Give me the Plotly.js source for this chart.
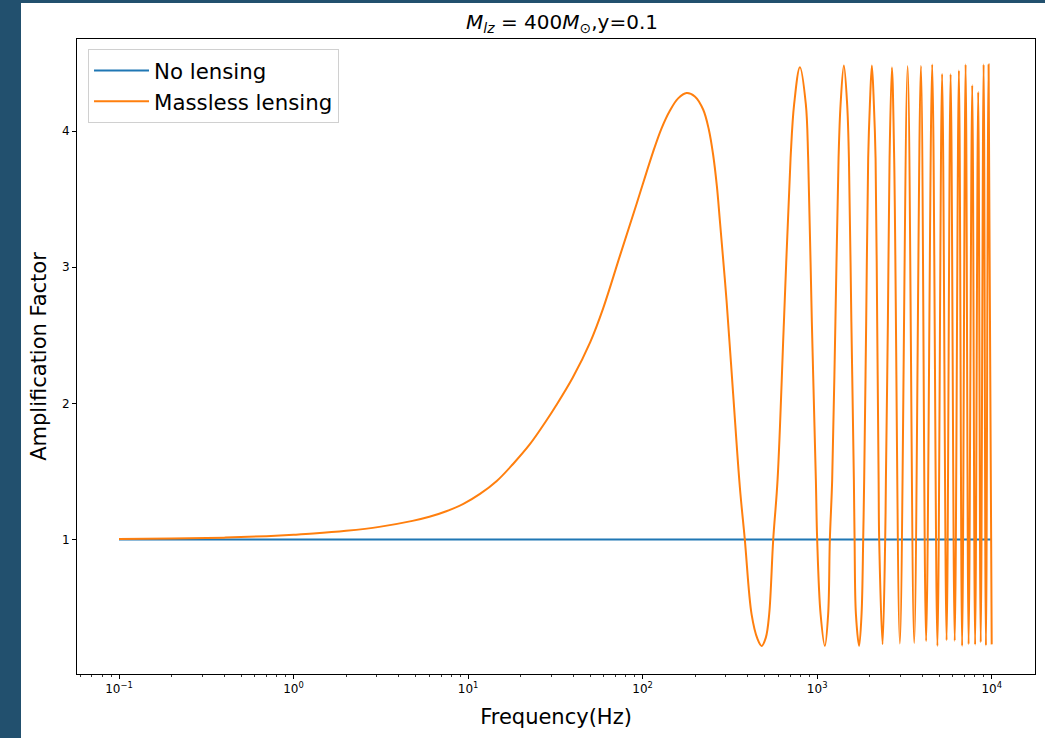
<!DOCTYPE html>
<html>
<head>
<meta charset="utf-8">
<script src="https://cdn.plot.ly/plotly-3.0.1.min.js"></script>
<style>
  html, body { margin: 0; padding: 0; background: #22506e; width: 1045px; height: 738px; overflow: hidden; }
  #chart { position: absolute; left: 21px; top: 3px; width: 1024px; height: 735px; background: #ffffff; }
</style>
</head>
<body>
<div id="chart"></div>
<script>
// ---- data ----
const noLensFreq = [0.1, 10000];
const noLensAmp = [1, 1];

const masslessFreq = [
  0.1, 0.2, 0.4, 0.7, 1.0, 1.3, 2.0, 3.1, 4.8, 6.0, 7.5, 9.4, 11.7, 14.6, 18.1, 22.6, 28.1, 31.6,
  39.8, 50.1, 59.4, 74.0, 92.3, 114.8, 128.2, 143.2, 159.7, 178.6, 199.1, 222.2, 239.6, 253.5, 266.2, 276.9,
  302.6, 330.1, 360.6,
  385, 421, 455, 480, 508, 531, 560, 593,
  645, 704, 738, 796, 861, 888, 932, 983, 1000, 1046, 1107, 1156, 1182, 1219,
  1272, 1326, 1362, 1422, 1485, 1520, 1570, 1623, 1638, 1667, 1739, 1796, 1835, 1859,
  1909, 1960, 2005, 2058, 2113, 2161, 2207, 2249, 2266, 2370, 2453, 2476,
  2542, 2599, 2680, 2762, 2978,
  3298, 3596, 3929, 4209, 4560, 4885, 5197, 5513, 5814, 6138, 6486, 6767,
  7087, 7373, 7732, 8033, 8367, 8650, 8986, 9265, 9598, 10000
];
const masslessAmp = [
  1.004, 1.007, 1.014, 1.025, 1.035, 1.044, 1.064, 1.093, 1.137, 1.167, 1.208, 1.262, 1.335, 1.430, 1.555, 1.700, 1.874, 1.975,
  2.190, 2.45, 2.698, 3.081, 3.464, 3.847, 4.018, 4.149, 4.240, 4.279, 4.254, 4.158, 4.010, 3.826, 3.597, 3.345,
  2.754, 2.068, 1.384,
  1.0, 0.45, 0.27, 0.219, 0.28, 0.453, 1.0, 1.438,
  2.6, 3.8, 4.197, 4.469, 4.197, 3.8, 2.6, 1.438, 1.0, 0.453, 0.219, 0.453, 1.0, 1.438,
  2.6, 3.8, 4.197, 4.481, 4.197, 3.8, 2.6, 1.438, 1.0, 0.453, 0.219, 0.453, 1.0, 1.438,
  2.6, 3.8, 4.197, 4.481, 4.197, 3.8, 2.6, 1.438, 1.0, 0.231, 1.0, 1.438,
  2.6, 3.8, 4.466, 3.8, 0.237,
  4.476, 0.241, 4.478, 0.254, 4.489, 0.219, 4.419, 0.261, 4.417, 0.256, 4.444, 0.219,
  4.489, 0.231, 4.336, 0.228, 4.286, 0.246, 4.489, 0.222, 4.489, 0.23
];

const xTickVals = [0.1, 1, 10, 100, 1000, 10000];
const xTickText = ['10<sup>\u22121</sup>', '10<sup>0</sup>', '10<sup>1</sup>', '10<sup>2</sup>', '10<sup>3</sup>', '10<sup>4</sup>'];
const yTickVals = [1, 2, 3, 4];
const yTickText = ['1', '2', '3', '4'];

const seriesNames = ['No lensing', 'Massless lensing'];
const titleText = '<i>M<sub>lz</sub></i> = 400<i>M</i><sub>\u2299</sub>,y=0.1';
const xTitle = 'Frequency(Hz)';
const yTitle = 'Amplification Factor';

// minor log ticks (2..9 per decade)
const minorTicks = [];
for (let e = -2; e <= 4; e++) {
  for (let d = 2; d <= 9; d++) {
    const v = d * Math.pow(10, e);
    if (v > 0.057 && v < 17700) minorTicks.push(v);
  }
}

const font = 'DejaVu Sans, Liberation Sans, sans-serif';

const traces = [
  {
    x: noLensFreq, y: noLensAmp, type: 'scatter', mode: 'lines', name: seriesNames[0],
    legendgroup: 'g0',
    line: { color: '#1f77b4', width: 2 }
  },
  {
    x: masslessFreq, y: masslessAmp, type: 'scatter', mode: 'lines', name: seriesNames[1],
    legendgroup: 'g1',
    line: { color: '#ff7f0e', width: 2, shape: 'spline', smoothing: 1 }
  }
];

const layout = {
  width: 1024, height: 735,
  margin: { l: 56, r: 10, t: 36, b: 64 },
  paper_bgcolor: '#ffffff', plot_bgcolor: '#ffffff',
  font: { family: font, color: '#000000' },
  title: {
    text: titleText, font: { family: font, size: 20, color: '#000000' },
    x: 0.5063, xref: 'paper', y: 1 - 19 / 735, yref: 'container', yanchor: 'middle'
  },
  showlegend: true,
  legend: {
    x: 0.0115, y: 0.984, xanchor: 'left', yanchor: 'top',
    bgcolor: 'rgba(255,255,255,0.8)', bordercolor: '#d0d0d0', borderwidth: 1,
    font: { family: font, size: 21.3, color: '#000000' },
    itemwidth: 55,
    tracegroupgap: 0
  },
  xaxis: {
    type: 'log', range: [-1.2407, 4.248], autorange: false,
    tickmode: 'array', tickvals: xTickVals, ticktext: xTickText,
    ticks: 'outside', ticklen: 4, tickwidth: 1, tickcolor: '#000000',
    minor: { tickmode: 'array', tickvals: minorTicks, ticks: 'outside', ticklen: 2, tickwidth: 0.8, tickcolor: '#000000', showgrid: false },
    showline: true, linecolor: '#000000', linewidth: 1, mirror: true,
    showgrid: false, zeroline: false,
    tickfont: { family: font, size: 12, color: '#000000' },
    title: { text: xTitle, font: { family: font, size: 21, color: '#000000' }, standoff: 13 },
    automargin: false
  },
  yaxis: {
    range: [0.0125, 4.676], autorange: false,
    tickmode: 'array', tickvals: yTickVals, ticktext: yTickText,
    ticks: 'outside', ticklen: 4, tickwidth: 1, tickcolor: '#000000',
    showline: true, linecolor: '#000000', linewidth: 1, mirror: true,
    showgrid: false, zeroline: false,
    tickfont: { family: font, size: 12, color: '#000000' },
    title: { text: yTitle, font: { family: font, size: 21, color: '#000000' }, standoff: 9 },
    automargin: false
  }
};

Plotly.newPlot('chart', traces, layout, { displayModeBar: false, staticPlot: true });
</script>
</body>
</html>
